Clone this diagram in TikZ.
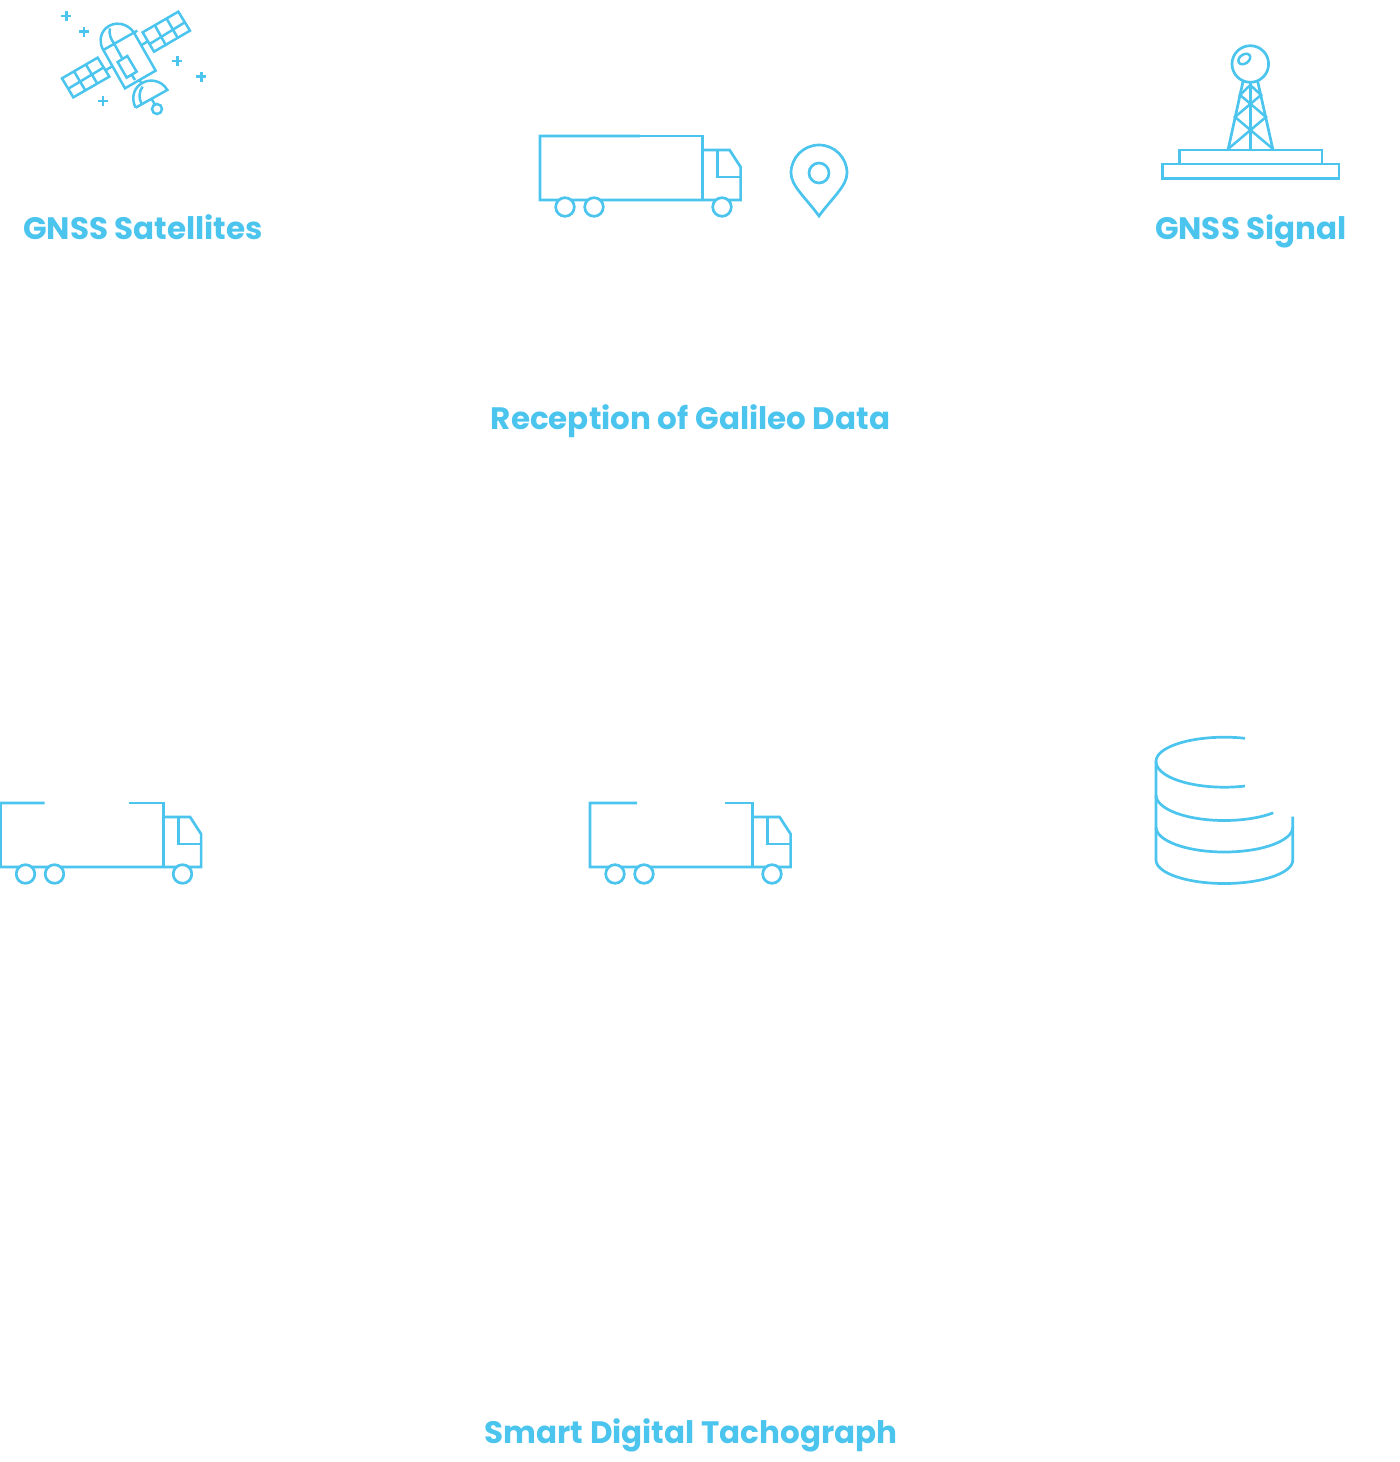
\documentclass[tikz,border=0pt]{standalone}
\usepackage{fontspec}
\setmainfont{Poppins}
\definecolor{iconblue}{HTML}{4BC4EE}
\tikzset{
  icon/.style={draw=iconblue, line width=2.7pt, line join=miter},
  thin icon/.style={draw=iconblue, line width=2.5pt},
  caption/.style={text=iconblue, font=\bfseries\fontsize{31}{36}\selectfont, anchor=base, inner sep=0pt}
}
% truck: x, y of the top left corner, then the two ends of the gap in its roof
\newcommand{\truckicon}[4]{
  \begin{scope}[shift={(#1,#2)}]
    \draw[icon] (#3,0) -- (0,0) -- (0,64) -- (200.6,64) -- (200.6,31) -- (189.6,14) -- (162.7,14);
    \draw[icon] (#4,0) -- (162.7,0) -- (162.7,64);
    \draw[icon] (177.7,14) -- (177.7,41) -- (200.6,41);
    \foreach \wheel in {25,54,182} {
      \draw[icon, fill=white] (\wheel,71) circle (9.3);
    }
  \end{scope}
}
\begin{document}
\begin{tikzpicture}[x=1pt, y=-1pt]
  \useasboundingbox (0,0) rectangle (1400,1462);

  \node[caption] (satlabel) at (143,239) {GNSS Satellites};
  \node[caption] (signallabel) at (1251,239) {GNSS Signal};
  \node[caption] (receptionlabel) at (690.5,429) {Reception of Galileo Data};
  \node[caption] (tacholabel) at (691,1443) {Smart Digital Tachograph};

  % satellite, in a finer grid
  \begin{scope}[shift={(40,0)}, x=0.3333pt, y=-0.3333pt]
    \draw[thin icon] (308,97) -- (415,35) -- (450,92) -- (342,155) -- cycle;
    \draw[thin icon] (329,132) -- (436,66);
    \draw[thin icon] (344,75) -- (379,138);
    \draw[thin icon] (380,56) -- (414,115);
    \draw[thin icon] (66,235) -- (173,173) -- (208,230) -- (100,292) -- cycle;
    \draw[thin icon] (85,266) -- (190,203);
    \draw[thin icon] (102,214) -- (136,271);
    \draw[thin icon] (138,194) -- (172,251);
    \draw[thin icon] (195,212) -- (218,198);
    \draw[thin icon] (305,135) -- (325,123);
    \draw[thin icon] (255,265) -- (347,212) -- (282,98) .. controls (262,68) and (222,62) .. (197,85) .. controls (178,105) and (178,130) .. (190,150) -- cycle;
    \draw[thin icon] (190,150) -- (292,92);
    \draw[thin icon] (210,85) .. controls (206,100) and (212,118) .. (222,130) -- (247,176);
    \draw[thin icon] (233,186) -- (262,168) -- (290,215) -- (260,233) -- cycle;
    \draw[thin icon] (275,224) -- (285,240);
    \draw[thin icon] (287,323) -- (382,270) .. controls (365,240) and (325,232) .. (298,255) .. controls (278,272) and (275,300) .. (287,323);
    \draw[thin icon] (298,240) -- (305,250);
    \draw[thin icon] (308,260) .. controls (296,275) and (296,295) .. (305,312);
    \draw[thin icon] (335,297) -- (345,314);
    \draw[thin icon] (351,327) circle (15);
    \foreach \px/\py in {79/48, 132/95, 412/183, 484/230, 189/303} {
      \draw[thin icon] (\px-15,\py) -- (\px+15,\py);
      \draw[thin icon] (\px,\py-15) -- (\px,\py+15);
    }
  \end{scope}

  % trucks
  \truckicon{540}{136}{100}{100}
  \truckicon{0.5}{803}{44}{128}
  \truckicon{590}{803}{47}{135}

  % pin
  \draw[icon] (819,216) .. controls (806,198) and (791,186) .. (791,173) arc (180:360:28) .. controls (847,186) and (832,198) .. cycle;
  \draw[icon] (819,173) circle (10);

  % tower
  \draw[icon] (1250.3,64) circle (18.3);
  \draw[thin icon, rotate around={35:(1244.3,59)}] (1244.3,59) ellipse (6.5 and 4.5);
  \draw[icon] (1243,81.5) -- (1228,150);
  \draw[icon] (1257.7,81.5) -- (1273,150);
  \draw[icon] (1250.3,81.5) -- (1250.3,150);
  \draw[thin icon] (1228,149) -- (1266,117) -- (1240,95) -- (1250.3,85);
  \draw[thin icon] (1273,149) -- (1235,117) -- (1261,95) -- (1250.3,85);
  \draw[icon] (1179.3,150) rectangle (1322,164);
  \draw[icon] (1162.3,164) rectangle (1339,178.7);

  % database
  \draw[icon] (1245,738.3) arc (287.5:180:68.4 and 24) -- (1156,860) arc (180:0:68.4 and 23.5) -- (1292.7,816.7);
  \draw[icon] (1156,761.7) arc (180:72.5:68.4 and 25.5);
  \draw[icon] (1156,795) arc (180:44.4:68.4 and 25.5);
  \draw[icon] (1156,827) arc (180:0:68.4 and 25);
\end{tikzpicture}
\end{document}
